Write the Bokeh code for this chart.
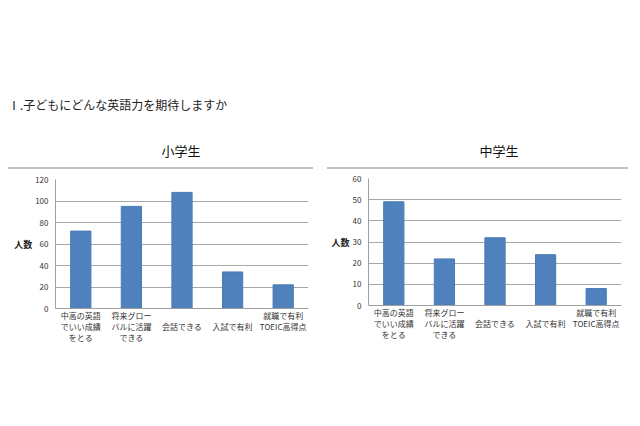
from bokeh.plotting import figure
from bokeh.models import Div, FixedTicker, Range1d, FactorRange, ColumnDataSource, CategoricalAxis
from bokeh.layouts import column, row
from bokeh.embed import file_html
from bokeh.resources import INLINE

FONT = "Noto Sans CJK JP"

heading = "Ⅰ.子どもにどんな英語力を期待しますか"
categories = ["中高の英語でいい成績をとる", "将来グローバルに活躍できる", "会話できる", "入試で有利", "就職で有利TOEIC高得点"]
# category label lines (one list per text row under the axis; blanks kept unique)
label_row1 = ["中高の英語", "将来グロー", " ", "  ", "就職で有利"]
label_row2 = ["でいい成績", "バルに活躍", "会話できる", "入試で有利", "TOEIC高得点"]
label_row3 = ["をとる", "できる", " ", "  ", "   "]
y_label = "人数"

elementary_title = "小学生"
elementary_values = [72, 95, 108, 34, 22]
elementary_ticks = [0, 20, 40, 60, 80, 100, 120]

junior_title = "中学生"
junior_values = [49, 22, 32, 24, 8]
junior_ticks = [0, 10, 20, 30, 40, 50, 60]


def style_axis(ax):
    ax.major_tick_line_color = None
    ax.minor_tick_line_color = None
    ax.major_tick_out = 0
    ax.major_tick_in = 0
    ax.minor_tick_out = 0
    ax.minor_tick_in = 0
    ax.major_label_text_font = FONT
    ax.major_label_text_font_size = "8px"
    ax.major_label_text_color = "#333333"


def make_chart(title, values, ticks, width, height, mb_left, mb_right, mb_top, mb_bottom, title_pad, first_standoff):
    src = ColumnDataSource(dict(cat=categories, val=values))
    p = figure(x_range=FactorRange(factors=categories), y_range=Range1d(ticks[0], ticks[-1]),
               width=width, height=height, output_backend="svg", toolbar_location=None,
               min_border_left=mb_left, min_border_right=mb_right,
               min_border_top=mb_top, min_border_bottom=mb_bottom)
    p.extra_x_ranges = {"row1": FactorRange(factors=label_row1),
                        "row2": FactorRange(factors=label_row2),
                        "row3": FactorRange(factors=label_row3)}
    p.vbar(x="cat", top="val", width=0.4, source=src, fill_color="#4F81BD", line_color="#4A7AB5")
    p.outline_line_color = None
    p.background_fill_color = "white"
    p.border_fill_color = "white"
    p.xgrid.grid_line_color = None
    p.ygrid.grid_line_color = "#a8a8a8"
    p.ygrid.grid_line_width = 1
    p.yaxis.ticker = FixedTicker(ticks=ticks)
    for ax in (p.xaxis[0], p.yaxis[0]):
        style_axis(ax)
        ax.axis_line_color = "#a0a0a0"
    p.yaxis.major_label_standoff = 7
    p.yaxis.axis_label = y_label
    p.yaxis.axis_label_orientation = "horizontal"
    p.yaxis.axis_label_standoff = 0
    p.yaxis.axis_label_text_font = FONT
    p.yaxis.axis_label_text_font_size = "9px"
    p.yaxis.axis_label_text_font_style = "bold"
    p.yaxis.axis_label_text_color = "#222222"
    p.xaxis[0].x_range_name = "row1"
    p.xaxis[0].major_label_standoff = first_standoff
    for name in ("row2", "row3"):
        ax = CategoricalAxis(x_range_name=name)
        style_axis(ax)
        ax.axis_line_color = None
        ax.major_label_standoff = -3
        p.add_layout(ax, "below")

    t = Div(text=(
        f'<div style="box-sizing:border-box;width:{width}px;height:51px;padding-top:24px;'
        f'padding-left:{title_pad}px;border-bottom:2px solid #c2c2c2;text-align:center;'
        f'font-family:\'{FONT}\';font-size:13px;line-height:18px;color:#111">{title}</div>'),
        width=width, height=51, margin=(0, 0, 0, 0))
    return column(t, p, spacing=0, margin=(0, 0, 0, 0))


head = Div(text=(
    f'<div style="margin:90px 0 0 0;font-family:\'{FONT}\';font-size:12px;line-height:14px;'
    f'color:#222;white-space:nowrap">{heading}</div>'),
    width=610, height=110, margin=(0, 0, 0, 0))

left = make_chart(elementary_title, elementary_values, elementary_ticks, 305, 189, 47, 5, 10, 50, 41, 1)
right = make_chart(junior_title, junior_values, junior_ticks, 301, 186, 41, 7, 9, 50, 43, 1)

layout = column(head, row(left, right, spacing=14, margin=(0, 0, 0, 0)), spacing=0, margin=(8, 0, 0, 8))

open("out.html", "w").write(file_html(layout, INLINE))
